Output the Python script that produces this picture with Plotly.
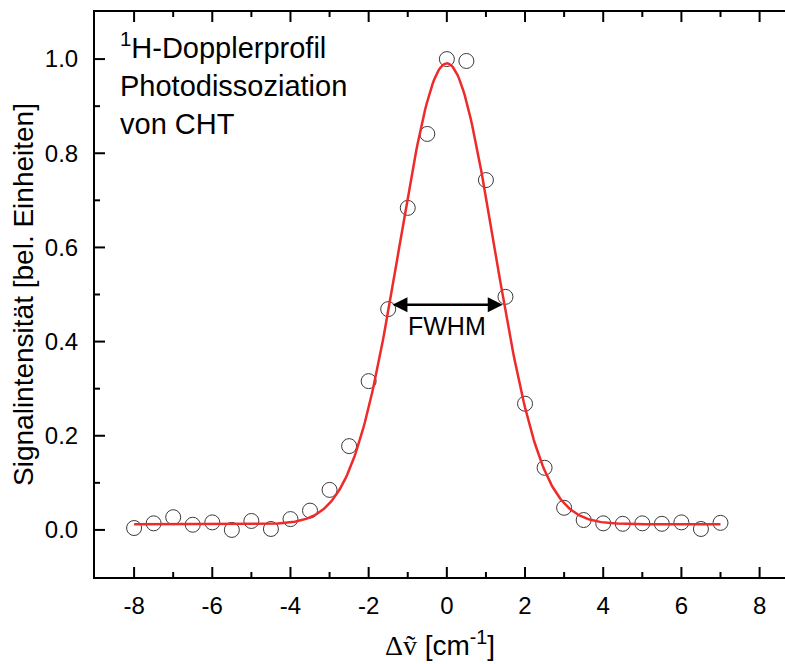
import numpy as np
import plotly.graph_objects as go

# Measured data (Doppler profile)
x_data = [-8, -7.5, -7, -6.5, -6, -5.5, -5, -4.5, -4, -3.5, -3, -2.5, -2, -1.5, -1, -0.5,
          0, 0.5, 1, 1.5, 2, 2.5, 3, 3.5, 4, 4.5, 5, 5.5, 6, 6.5, 7]
y_data = [0.004, 0.014, 0.027, 0.011, 0.016, 0.0, 0.019, 0.002, 0.023, 0.041, 0.085, 0.178,
          0.316, 0.469, 0.684, 0.841, 1.0, 0.996, 0.743, 0.495, 0.268, 0.132, 0.047, 0.021,
          0.014, 0.013, 0.014, 0.013, 0.016, 0.002, 0.015]

# Gaussian fit parameters
fit_y0 = 0.012
fit_A = 0.979
fit_xc = 0.0
fit_sigma = 1.207
fit_xmin, fit_xmax = -8, 7

# FWHM arrow
fwhm_left, fwhm_right, fwhm_y = -1.43, 1.43, 0.478

x_range = [-9, 8.65]
y_range = [-0.1, 1.1]
x_ticks = [-8, -6, -4, -2, 0, 2, 4, 6, 8]
x_ticktext = ["-8", "-6", "-4", "-2", "0", "2", "4", "6", "8"]
x_minor = [-7, -5, -3, -1, 1, 3, 5, 7]
y_ticks = [0.0, 0.2, 0.4, 0.6, 0.8, 1.0]
y_ticktext = ["0.0", "0.2", "0.4", "0.6", "0.8", "1.0"]
y_minor = [0.1, 0.3, 0.5, 0.7, 0.9]

# layout geometry (pixels)
W, H = 785, 664
M_L, M_R, M_T, M_B = 95, 0, 12, 87
MAJOR_LEN, MINOR_LEN = 10, 5

xf = np.linspace(fit_xmin, fit_xmax, 400)
yf = fit_y0 + fit_A * np.exp(-(xf - fit_xc) ** 2 / (2 * fit_sigma ** 2))

# data units per pixel, for inward tick marks drawn through the axis scales
ux = (x_range[1] - x_range[0]) / (W - M_L - M_R)
uy = (y_range[1] - y_range[0]) / (H - M_T - M_B)

tx, ty = [], []
for vals, length in [(x_ticks, MAJOR_LEN), (x_minor, MINOR_LEN)]:
    for v in vals:
        tx += [v, v, None, v, v, None]
        ty += [y_range[0], y_range[0] + length * uy, None, y_range[1], y_range[1] - length * uy, None]
for vals, length in [(y_ticks, MAJOR_LEN), (y_minor, MINOR_LEN)]:
    for v in vals:
        tx += [x_range[0], x_range[0] + length * ux, None]
        ty += [v, v, None]

font_family = "Liberation Sans, Arial, sans-serif"

fig = go.Figure()
fig.add_trace(go.Scatter(
    x=tx, y=ty, mode="lines", line=dict(color="black", width=2), showlegend=False,
    hoverinfo="skip", connectgaps=False,
))
fig.add_trace(go.Scatter(
    x=x_data, y=y_data, mode="markers",
    marker=dict(symbol="circle-open", size=15, color="#3a3a3a", line=dict(width=1, color="#3a3a3a")),
    showlegend=False,
))
fig.add_trace(go.Scatter(
    x=xf, y=yf, mode="lines", line=dict(color="#ee2a2a", width=2.5), showlegend=False,
))

fig.add_annotation(
    x=fwhm_right, y=fwhm_y, ax=fwhm_left, ay=fwhm_y, xref="x", yref="y", axref="x", ayref="y",
    text="", showarrow=True, arrowhead=2, arrowside="end+start", arrowsize=1.2, arrowwidth=2.5,
    arrowcolor="black", standoff=0, startstandoff=0,
)
fig.add_annotation(
    x=0, y=0.434, xref="x", yref="y", text="FWHM", showarrow=False,
    font=dict(size=25, color="black", family=font_family),
)
fig.add_annotation(
    x=0.033, y=0.975, xref="paper", yref="paper", xanchor="left", yanchor="top", align="left",
    text="<sup>1</sup>H-Dopplerprofil<br>Photodissoziation<br>von CHT", showarrow=False,
    font=dict(size=29, color="black", family=font_family),
)

fig.update_layout(
    width=W, height=H,
    margin=dict(l=M_L, r=M_R, t=M_T, b=M_B),
    plot_bgcolor="white", paper_bgcolor="white",
    font=dict(family=font_family, color="black", size=24),
    xaxis=dict(
        range=x_range, tickmode="array", tickvals=x_ticks, ticktext=x_ticktext, ticks="",
        showline=True, linewidth=2, linecolor="black", mirror=True,
        showgrid=False, zeroline=False,
        tickfont=dict(size=24), ticklabelstandoff=6,
        title=dict(text="<span style=\"font-family:Liberation Serif\">Δṽ</span> [cm<sup>-1</sup>]",
                   font=dict(size=28), standoff=18),
    ),
    yaxis=dict(
        range=y_range, tickmode="array", tickvals=y_ticks, ticktext=y_ticktext, ticks="",
        showline=True, linewidth=2, linecolor="black", mirror=False,
        showgrid=False, zeroline=False,
        tickfont=dict(size=24), ticklabelstandoff=10,
        title=dict(text="Signalintensität [bel. Einheiten]", font=dict(size=28), standoff=3),
    ),
)

fig.write_html("out.html")
